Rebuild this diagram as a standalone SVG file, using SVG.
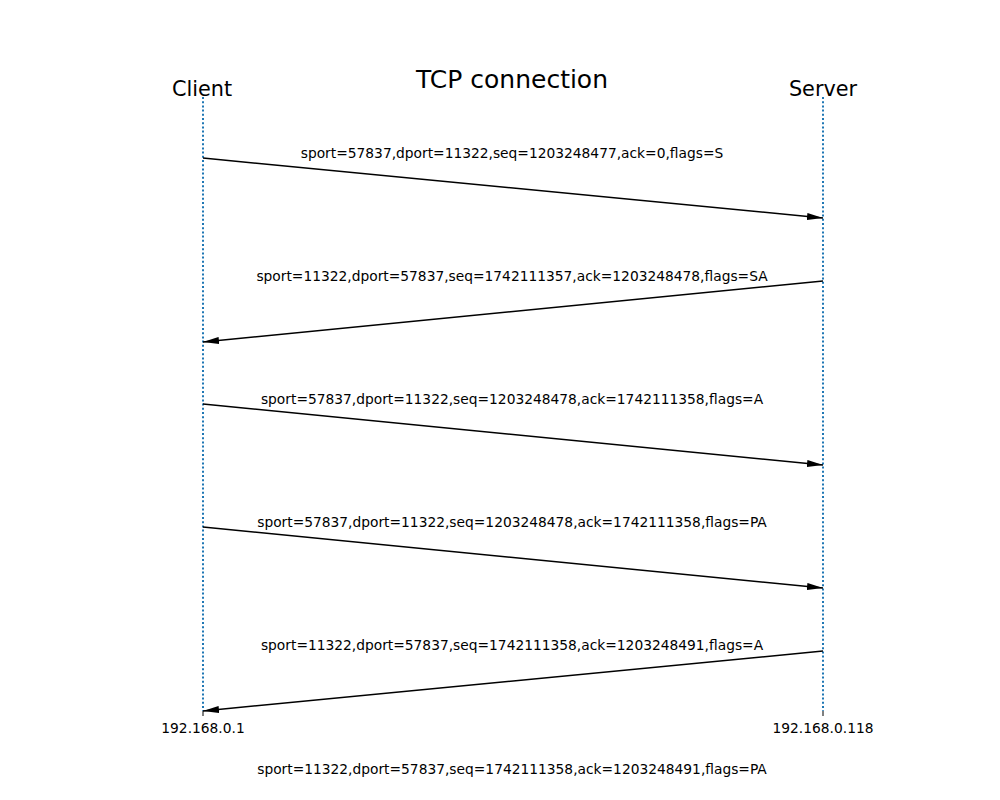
<svg xmlns="http://www.w3.org/2000/svg" width="1000" height="800" viewBox="0 0 1000 800">
<style>
text{font-family:"DejaVu Sans",sans-serif;fill:#000}
.lbl{font-size:13.8px;text-anchor:middle}
.hdr{font-size:20.8px;text-anchor:middle}
.life{stroke:#1f77b4;stroke-width:2;stroke-dasharray:2,2.2;fill:none}
.msg{stroke:#000;stroke-width:1.5;fill:none}
.tick{stroke:#000;stroke-width:1}
</style>
<defs>
<marker id="ah" viewBox="0 0 16 7" refX="16" refY="3.5" markerWidth="16" markerHeight="7" markerUnits="userSpaceOnUse" orient="auto">
<path d="M0,0 L16,3.5 L0,7 Z" fill="#000"/>
</marker>
</defs>
<rect width="1000" height="800" fill="#fff"/>
<text x="512" y="88" font-size="25px" text-anchor="middle">TCP connection</text>
<g id="client">
<text class="hdr" x="202" y="96">Client</text>
<line class="life" x1="203" y1="97" x2="203" y2="711"/>
<line class="tick" x1="203" y1="711" x2="203" y2="716"/>
<text class="lbl" x="203" y="733">192.168.0.1</text>
</g>
<g id="server">
<text class="hdr" x="823" y="96">Server</text>
<line class="life" x1="823" y1="97" x2="823" y2="711"/>
<line class="tick" x1="823" y1="711" x2="823" y2="716"/>
<text class="lbl" x="823" y="733">192.168.0.118</text>
</g>
<g id="connectors">
<line class="msg" x1="203" y1="158" x2="823" y2="218" marker-end="url(#ah)"/>
<line class="msg" x1="823" y1="281" x2="203" y2="342" marker-end="url(#ah)"/>
<line class="msg" x1="203" y1="404" x2="823" y2="465" marker-end="url(#ah)"/>
<line class="msg" x1="203" y1="527" x2="823" y2="588" marker-end="url(#ah)"/>
<line class="msg" x1="823" y1="651" x2="203" y2="711" marker-end="url(#ah)"/>
</g>
<g id="labels">
<text class="lbl" x="512" y="158">sport=57837,dport=11322,seq=1203248477,ack=0,flags=S</text>
<text class="lbl" x="512" y="281">sport=11322,dport=57837,seq=1742111357,ack=1203248478,flags=SA</text>
<text class="lbl" x="512" y="404">sport=57837,dport=11322,seq=1203248478,ack=1742111358,flags=A</text>
<text class="lbl" x="512" y="527">sport=57837,dport=11322,seq=1203248478,ack=1742111358,flags=PA</text>
<text class="lbl" x="512" y="650">sport=11322,dport=57837,seq=1742111358,ack=1203248491,flags=A</text>
<text class="lbl" x="512" y="774">sport=11322,dport=57837,seq=1742111358,ack=1203248491,flags=PA</text>
</g>
</svg>
